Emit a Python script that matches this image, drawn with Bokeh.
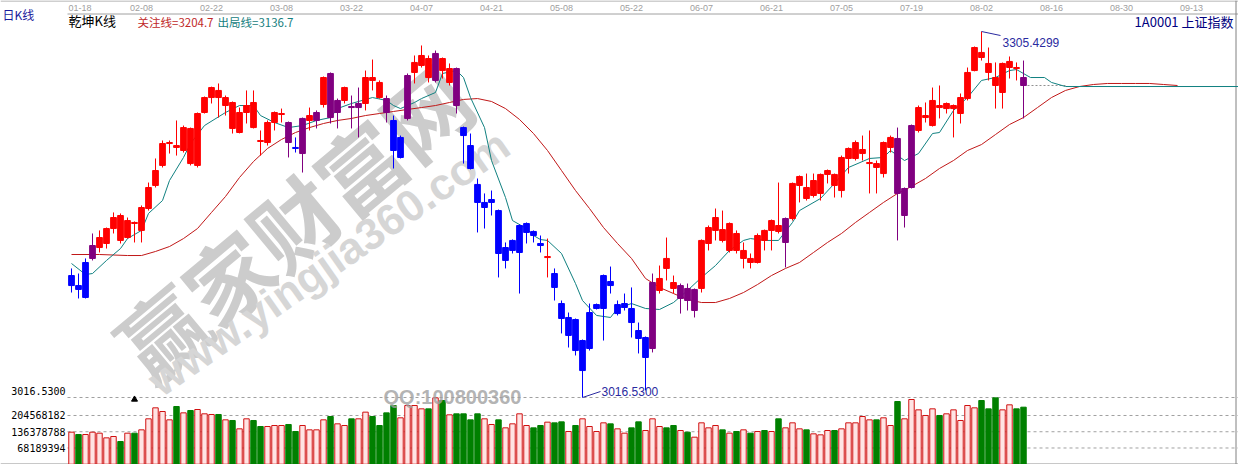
from bokeh.plotting import figure
from bokeh.models import Range1d, Label, ColumnDataSource
from bokeh.embed import file_html
from bokeh.resources import INLINE

# ---------------- data ----------------
date_labels = ["01-18", "02-08", "02-22", "03-08", "03-22", "04-07", "04-21", "05-08", "05-22",
               "06-07", "06-21", "07-05", "07-19", "08-02", "08-16", "08-30", "09-13"]
date_index = [0, 10, 20, 30, 40, 50, 60, 70, 80, 90, 100, 110, 120, 130, 140, 150, 160]

open_ = [
    3104.9, 3104.9, 3095.5, 3126.3, 3134.9, 3138.1, 3149.9, 3160.2, 3142.8, 3154.7,
    3148.4, 3165.7, 3183.9, 3199.7, 3217.0, 3215.4, 3211.5, 3228.9, 3199.7, 3241.5,
    3253.3, 3258.9, 3247.0, 3249.4, 3225.7, 3241.5, 3249.4, 3219.4, 3217.8, 3233.6,
    3239.9, 3233.6, 3213.9, 3209.1, 3235.2, 3235.2, 3247.8, 3272.3, 3241.5, 3251.0,
    3246.2, 3245.4, 3248.6, 3269.1, 3265.2, 3252.5, 3235.2, 3206.0, 3236.8, 3273.1,
    3278.6, 3284.1, 3266.8, 3284.1, 3265.2, 3276.2, 3229.6, 3215.4, 3184.7, 3166.5,
    3170.5, 3164.1, 3124.7, 3132.6, 3131.0, 3146.8, 3147.6, 3138.1, 3127.0, 3114.4,
    3090.7, 3065.5, 3078.1, 3037.8, 3055.2, 3086.8, 3086.8, 3108.1, 3082.8, 3087.6,
    3086.8, 3069.4, 3048.1, 3055.2, 3101.0, 3126.3, 3107.3, 3094.7, 3102.6, 3085.2,
    3102.6, 3138.1, 3148.4, 3149.1, 3132.6, 3146.0, 3126.3, 3126.3, 3123.1, 3148.4,
    3148.4, 3152.3, 3138.9, 3157.8, 3183.9, 3182.3, 3176.0, 3177.6, 3192.6, 3192.6,
    3179.9, 3205.2, 3205.2, 3209.1, 3201.2, 3201.2, 3193.3, 3213.9, 3221.0, 3160.2,
    3182.3, 3227.3, 3237.5, 3231.2, 3247.0, 3244.6, 3244.6, 3240.7, 3252.5, 3274.6,
    3288.9, 3280.2, 3269.1, 3257.3, 3277.0, 3277.0, 3269.1]
high = [
    3118.4, 3114.4, 3126.3, 3146.0, 3148.4, 3150.7, 3162.6, 3161.8, 3158.6, 3155.5,
    3168.1, 3186.2, 3205.2, 3219.4, 3219.4, 3235.2, 3231.2, 3229.6, 3241.5, 3254.1,
    3261.9, 3264.4, 3254.9, 3250.2, 3245.4, 3258.9, 3258.9, 3227.3, 3235.2, 3242.3,
    3244.6, 3234.4, 3221.8, 3237.5, 3245.4, 3243.1, 3269.9, 3273.1, 3252.5, 3261.9,
    3254.9, 3261.2, 3274.6, 3283.3, 3266.8, 3254.9, 3239.1, 3223.3, 3272.3, 3286.5,
    3294.4, 3286.5, 3290.4, 3284.9, 3280.2, 3277.0, 3230.4, 3224.9, 3189.4, 3177.6,
    3179.9, 3164.9, 3138.9, 3141.3, 3153.1, 3154.7, 3148.4, 3144.4, 3142.0, 3118.4,
    3093.1, 3083.6, 3078.9, 3062.3, 3090.7, 3090.7, 3113.6, 3119.9, 3093.1, 3098.6,
    3103.4, 3075.7, 3064.7, 3114.4, 3120.7, 3142.8, 3112.8, 3106.5, 3106.5, 3102.6,
    3141.3, 3152.3, 3165.7, 3164.1, 3154.7, 3148.4, 3138.9, 3130.2, 3146.0, 3149.1,
    3157.0, 3186.2, 3158.6, 3186.2, 3191.8, 3193.3, 3193.3, 3193.3, 3196.5, 3193.3,
    3207.5, 3213.9, 3219.4, 3223.3, 3227.3, 3203.6, 3218.6, 3223.3, 3229.6, 3182.3,
    3232.0, 3247.0, 3249.4, 3261.2, 3262.8, 3249.4, 3247.8, 3256.5, 3277.0, 3293.6,
    3305.4299, 3292.8, 3281.0, 3280.9, 3285.7, 3281.0, 3282.5]
low = [
    3099.4, 3094.7, 3094.7, 3124.7, 3131.0, 3134.1, 3146.0, 3138.1, 3142.0, 3138.9,
    3138.9, 3164.1, 3182.3, 3198.1, 3209.1, 3207.5, 3209.9, 3199.7, 3198.1, 3240.7,
    3248.6, 3237.5, 3239.1, 3224.9, 3225.0, 3232.8, 3228.9, 3207.5, 3215.4, 3227.3,
    3233.6, 3206.0, 3209.9, 3194.1, 3227.3, 3228.9, 3245.4, 3232.8, 3228.9, 3248.6,
    3228.9, 3221.8, 3243.1, 3258.9, 3252.5, 3233.6, 3197.3, 3205.2, 3235.2, 3264.4,
    3277.0, 3265.2, 3265.2, 3268.3, 3262.8, 3240.7, 3201.2, 3196.5, 3146.8, 3149.9,
    3160.2, 3111.3, 3118.4, 3130.2, 3098.6, 3138.1, 3138.9, 3131.0, 3111.3, 3093.1,
    3067.1, 3056.0, 3049.7, 3016.53, 3053.6, 3086.0, 3061.5, 3098.6, 3081.3, 3085.2,
    3063.9, 3051.3, 3022.1, 3052.1, 3098.6, 3108.9, 3098.6, 3082.8, 3085.2, 3079.7,
    3099.4, 3132.6, 3140.5, 3138.9, 3131.0, 3130.2, 3118.4, 3118.4, 3122.3, 3132.6,
    3132.6, 3146.0, 3119.2, 3156.2, 3170.5, 3172.0, 3174.4, 3172.0, 3185.5, 3174.4,
    3174.4, 3193.3, 3203.6, 3203.6, 3177.6, 3177.6, 3190.2, 3209.9, 3140.5, 3150.7,
    3181.5, 3225.7, 3233.6, 3230.4, 3236.8, 3240.7, 3221.8, 3232.8, 3251.0, 3274.0,
    3282.5, 3266.8, 3244.6, 3244.6, 3268.3, 3266.8, 3236.8]
close = [
    3112.8, 3101.8, 3123.1, 3136.5, 3142.8, 3149.9, 3158.6, 3140.5, 3156.2, 3153.9,
    3166.5, 3182.3, 3195.7, 3217.0, 3217.8, 3213.9, 3229.6, 3201.2, 3240.7, 3253.3,
    3261.2, 3253.3, 3253.3, 3228.9, 3241.5, 3247.0, 3229.6, 3218.6, 3233.6, 3241.5,
    3240.7, 3217.8, 3213.1, 3236.8, 3239.1, 3241.5, 3269.1, 3237.5, 3251.0, 3261.2,
    3245.4, 3248.6, 3269.1, 3266.8, 3253.3, 3241.5, 3211.5, 3221.8, 3270.7, 3281.0,
    3286.5, 3269.1, 3288.1, 3274.6, 3276.2, 3247.0, 3223.3, 3197.3, 3170.5, 3170.5,
    3172.8, 3130.2, 3134.9, 3140.5, 3152.3, 3153.9, 3144.4, 3136.5, 3127.8, 3103.4,
    3078.9, 3079.7, 3053.6, 3061.5, 3083.6, 3089.9, 3112.8, 3104.9, 3089.9, 3090.7,
    3075.7, 3063.1, 3063.9, 3107.3, 3110.5, 3118.4, 3102.6, 3104.9, 3093.1, 3101.8,
    3140.5, 3150.7, 3158.6, 3140.5, 3153.9, 3132.6, 3132.6, 3123.1, 3144.4, 3140.5,
    3156.2, 3147.6, 3157.8, 3185.5, 3191.0, 3173.6, 3187.8, 3192.6, 3195.7, 3183.9,
    3206.0, 3213.1, 3217.8, 3212.3, 3202.0, 3198.1, 3217.8, 3221.8, 3177.6, 3181.5,
    3231.2, 3245.4, 3239.1, 3251.0, 3245.4, 3248.6, 3247.0, 3253.3, 3273.1, 3292.8,
    3284.9, 3273.1, 3262.8, 3280.2, 3281.8, 3276.2, 3262.8]
# indicator state of each candle: r = strong (red), b = weak (blue), p = neutral (purple)
state = ("bbbprrrrrr" "rrrrrrrrrr" "rrrrrrrrrr" "rpbprprppr" "pprrrpbbpr"
         "rrprrpbbbb" "bbbbbbbbrb" "bbbbbbbbbb" "bbbprrrppp" "rrrrrrrrrr"
         "rrprrrrrrr" "rrrrrrrrpp" "prrrrrrrrr" "rrrrrrp")
# volume, millions of shares
volume = [
    134.6, 124.8, 124.8, 134.6, 130.4, 110.8, 116.4, 95.4, 130.4, 130.4,
    144.4, 190.6, 236.7, 221.3, 186.4, 242.3, 215.7, 225.5, 229.7, 211.6,
    208.8, 208.8, 186.4, 183.6, 148.6, 190.6, 183.6, 158.4, 158.4, 162.6,
    162.6, 166.8, 137.4, 162.6, 144.4, 144.4, 186.4, 200.4, 169.6, 162.6,
    190.6, 190.6, 218.6, 200.4, 162.6, 215.7, 246.5, 194.8, 246.5, 246.5,
    232.5, 232.5, 278.7, 267.5, 207.4, 211.6, 211.6, 186.4, 211.6, 190.6,
    166.8, 186.4, 152.8, 169.6, 211.6, 162.6, 152.8, 162.6, 176.6, 173.8,
    178.0, 137.4, 162.6, 190.6, 158.4, 137.4, 173.8, 169.6, 148.6, 130.4,
    152.8, 178.0, 141.6, 190.6, 158.4, 152.8, 162.6, 141.6, 134.6, 113.6,
    173.8, 152.8, 162.6, 144.4, 130.4, 137.4, 144.4, 130.4, 137.4, 141.6,
    137.4, 190.6, 152.8, 173.8, 148.6, 144.4, 127.6, 123.4, 141.6, 141.6,
    148.6, 173.8, 173.8, 200.4, 186.4, 186.4, 194.8, 162.6, 263.3, 190.6,
    271.7, 228.3, 204.6, 232.5, 204.6, 211.6, 228.3, 183.6, 246.5, 236.7,
    267.5, 232.5, 278.7, 228.3, 249.3, 232.5, 239.5]
vol_ticks = [68189394, 136378788, 204568182]

# 出局线 (fast line, teal)
fast_idx = [0, 2, 3, 5, 7, 8, 10, 11, 13, 14, 16, 17, 19, 22, 24, 26, 27, 29, 31, 33, 35, 37, 38, 40,
            41, 43, 45, 46, 47, 49, 50, 52, 53, 55, 56, 57, 59, 60, 62, 63, 65, 66, 67, 68, 70, 72,
            73, 75, 77, 78, 80, 82, 84, 86, 88, 90, 92, 94, 96, 97, 99, 101, 103, 104, 107, 109,
            111, 114, 116, 117, 119, 121, 123, 124, 126, 128, 130, 132, 134, 135, 137, 139, 140,
            142, 167]
fast_val = [3122.3, 3113.6, 3114.4, 3124.7, 3134.1, 3142.0, 3148.4, 3161.8, 3172.0, 3187.8, 3206.0,
            3217.0, 3231.2, 3241.5, 3247.0, 3247.0, 3239.1, 3233.6, 3229.6, 3231.2, 3235.2, 3237.5,
            3244.6, 3248.6, 3250.2, 3253.3, 3251.0, 3247.0, 3244.6, 3249.4, 3252.5, 3257.3, 3272.3,
            3274.6, 3269.1, 3253.3, 3229.6, 3203.6, 3174.4, 3156.2, 3149.9, 3144.4, 3141.2, 3140.5,
            3130.2, 3106.5, 3093.1, 3081.3, 3079.7, 3086.8, 3090.7, 3086.8, 3086.0, 3091.5, 3101.0,
            3111.3, 3120.7, 3132.6, 3140.5, 3142.0, 3140.5, 3140.5, 3154.7, 3164.1, 3173.6, 3185.5,
            3198.1, 3205.2, 3206.0, 3211.5, 3203.6, 3209.1, 3224.9, 3225.7, 3243.1, 3253.3, 3266.8,
            3269.1, 3274.6, 3275.4, 3269.1, 3269.1, 3265.2, 3262.0, 3262.0]
# 关注线 (slow line, dark red)
slow_idx = [0, 4, 8, 10, 12, 14, 16, 18, 20, 22, 24, 26, 28, 30, 32, 34, 36, 38, 40, 42, 44, 46, 48,
            50, 52, 54, 56, 58, 60, 62, 64, 66, 68, 70, 72, 74, 76, 78, 80, 82, 84, 86, 88, 90, 92,
            94, 96, 98, 100, 102, 104, 106, 108, 110, 112, 114, 116, 118, 120, 122, 124, 126, 128,
            130, 132, 134, 136, 138, 140, 142, 144, 146, 148, 150, 152, 154, 156, 158]
slow_val = [3129.4, 3129.4, 3128.6, 3128.6, 3131.8, 3135.7, 3142.0, 3149.9, 3162.6, 3175.2, 3190.2,
            3202.8, 3213.1, 3220.2, 3225.7, 3229.6, 3232.8, 3235.2, 3236.8, 3239.1, 3240.7, 3242.3,
            3243.9, 3245.4, 3247.0, 3249.4, 3251.8, 3252.5, 3250.2, 3244.6, 3236.0, 3224.9, 3211.5,
            3195.7, 3179.9, 3165.7, 3150.7, 3138.1, 3126.3, 3110.5, 3103.4, 3098.6, 3093.9, 3091.5,
            3091.5, 3094.7, 3099.4, 3105.7, 3112.8, 3118.4, 3123.1, 3131.0, 3138.9, 3146.0, 3154.7,
            3162.6, 3170.5, 3177.6, 3183.1, 3189.4, 3197.3, 3203.6, 3211.5, 3216.2, 3224.1, 3232.0,
            3237.5, 3245.4, 3253.3, 3258.9, 3262.0, 3263.6, 3264.4, 3264.4, 3264.4, 3264.4, 3263.6,
            3262.8]
marker_idx = [9]
marker_vol = [272.0]

# ---------------- layout helpers ----------------
W, H = 1238, 464
BAR_PX, FIRST_PX = 7.0, 71.0
X0, X1 = -FIRST_PX / BAR_PX, (W - FIRST_PX) / BAR_PX
Y0, Y1 = 2963.65, 3329.90          # price range over full height
V0, V1 = -1.05, 1946.0             # volume range (millions) over full height


def xd(px):
    return X0 + px * (X1 - X0) / W


def yd(py):
    return Y1 - py * (Y1 - Y0) / H


PPX = (Y1 - Y0) / H   # price per pixel

p = figure(width=W, height=H, x_range=Range1d(X0, X1), y_range=Range1d(Y0, Y1),
           output_backend="svg", toolbar_location=None, min_border=0,
           x_axis_location=None, y_axis_location=None,
           background_fill_color="white", border_fill_color="white",
           outline_line_color=None)
p.grid.visible = False
p.extra_y_ranges = {"vol": Range1d(V0, V1)}


def lab(x, y, text, **kw):
    opts = dict(text_font="Liberation Sans", text_font_size="12px", text_color="black",
                text_align="left", text_baseline="middle")
    opts.update(kw)
    p.add_layout(Label(x=x, y=y, text=text, **opts))


# watermark (under the glyphs)
lab(xd(292), yd(220), "赢家财富网", angle=0.695, text_align="center",
    text_font="Noto Sans CJK SC", text_font_style="bold", text_font_size="86px",
    text_color="#cccccc", level="underlay")
lab(xd(328), yd(262), "www.yingjia360.com", angle=0.61, text_align="center",
    text_font="Liberation Sans", text_font_style="bold", text_font_size="44px",
    text_color="#d6d6d6", level="underlay")

# frame lines
p.segment(x0=[xd(0)], x1=[xd(W)], y0=[yd(0.5)], y1=[yd(0.5)], line_color="#a0a0a0", line_width=1)
p.segment(x0=[xd(67)], x1=[xd(W)], y0=[yd(13.5)], y1=[yd(13.5)], line_color="#a0a0a0", line_width=1)
p.segment(x0=[xd(0)], x1=[xd(W)], y0=[yd(463.5)], y1=[yd(463.5)], line_color="#909090", line_width=1)
p.segment(x0=[xd(1235.5)], x1=[xd(1235.5)], y0=[yd(0)], y1=[yd(H)], line_color="#808080", line_width=1)

# dashed guide lines
lo_i = min(range(len(low)), key=lambda k: low[k])
hi_i = max(range(len(high)), key=lambda k: high[k])
p.segment(x0=[xd(67)], x1=[X1], y0=[low[lo_i]], y1=[low[lo_i]], line_color="#a0a0a0",
          line_dash="3 3", line_width=1)
vt = [t / 1e6 for t in vol_ticks]
p.segment(x0=[xd(67)] * len(vt), x1=[X1] * len(vt), y0=vt, y1=vt, line_color="#a0a0a0",
          line_dash="3 3", line_width=1, y_range_name="vol")

# volume bars
n = len(close)
idx = list(range(n))
up = [c >= o for o, c in zip(open_, close)]
vsrc = ColumnDataSource(dict(x=idx, v=volume,
                             fill=["#ffe4e4" if u else "#008000" for u in up],
                             line=["#d01010" if u else "#008000" for u in up]))
p.vbar(x="x", width=0.78, top="v", bottom=0, fill_color="fill", line_color="line",
       line_width=1, source=vsrc, y_range_name="vol")
p.scatter(marker_idx, marker_vol, marker="triangle", size=6, color="black", y_range_name="vol")

# lines
p.line(slow_idx, slow_val, line_color="#c01818", line_width=1)
p.line([n - 1, n + 5], [close[-1], close[-1]], line_color="#909090", line_dash="2 2", line_width=1)
p.line(fast_idx, fast_val, line_color="#108080", line_width=1)

# candles
cmap = {"r": "#ff0000", "b": "#0000ff", "p": "#800080"}
csrc = ColumnDataSource(dict(x=idx, hi=high, lo=low,
                             top=[max(o, c) for o, c in zip(open_, close)],
                             bot=[min(o, c) for o, c in zip(open_, close)],
                             col=[cmap[s] for s in state]))
p.segment(x0="x", x1="x", y0="lo", y1="hi", line_color="col", line_width=1, source=csrc)
p.vbar(x="x", width=0.82, top="top", bottom="bot", fill_color="col", line_color="col",
       line_width=1, source=csrc)

# high / low annotations
p.line([hi_i, hi_i + 19 / BAR_PX], [high[hi_i], high[hi_i] - 4 * PPX], line_color="#2a2aa0", line_width=1)
lab(hi_i + 21 / BAR_PX, high[hi_i] - 11 * PPX, f"{high[hi_i]:.4f}", text_color="#2a2aa0",
    text_font_size="12px")
p.line([lo_i, lo_i + 18 / BAR_PX], [low[lo_i], low[lo_i] + 6 * PPX], line_color="#2a2aa0", line_width=1)
lab(lo_i + 19 / BAR_PX, low[lo_i] + 6 * PPX, f"{low[lo_i]:.4f}", text_color="#2a2aa0",
    text_font_size="12px")

# date labels on top
for k, (d, di) in enumerate(zip(date_labels, date_index)):
    if k == 0:
        lab(xd(68), yd(7), d, text_font_size="9px", text_color="#a0a0a0", text_align="left")
    else:
        lab(di, yd(7), d, text_font_size="9px", text_color="#a0a0a0", text_align="center")

# header texts
lab(xd(2), yd(14), "日K线", text_font="Noto Sans CJK SC", text_font_size="12px", text_color="#1a1a9c")
lab(xd(68), yd(20), "乾坤K线", text_font="Noto Sans CJK SC", text_font_size="13px", text_color="black")
lab(xd(137), yd(21.5), "关注线=3204.7", text_font="Noto Sans CJK SC", text_font_size="11.5px",
    text_color="#c02828")
lab(xd(217), yd(21.5), "出局线=3136.7", text_font="Noto Sans CJK SC", text_font_size="11.5px",
    text_color="#168080")
lab(xd(1233), yd(21), "1A0001 上证指数", text_font="Noto Sans CJK SC", text_font_size="13px",
    text_color="#000080", text_align="right")

# left scale labels
lab(xd(65), low[lo_i] + 7 * PPX, f"{low[lo_i]:.4f}", text_font="DejaVu Sans Mono",
    text_font_size="10px", text_align="right")
for t in vol_ticks:
    p.add_layout(Label(x=xd(65), y=t / 1e6, y_range_name="vol", text=str(t),
                       text_font="DejaVu Sans Mono", text_font_size="10px",
                       text_align="right", text_baseline="middle", text_color="black"))

# QQ watermark
lab(xd(452), yd(396), "QQ:100800360", text_align="center", text_font="Liberation Sans",
    text_font_style="bold", text_font_size="20px", text_color="#a0a0a0", text_alpha=0.8)

open("out.html", "w").write(file_html(p, INLINE))
